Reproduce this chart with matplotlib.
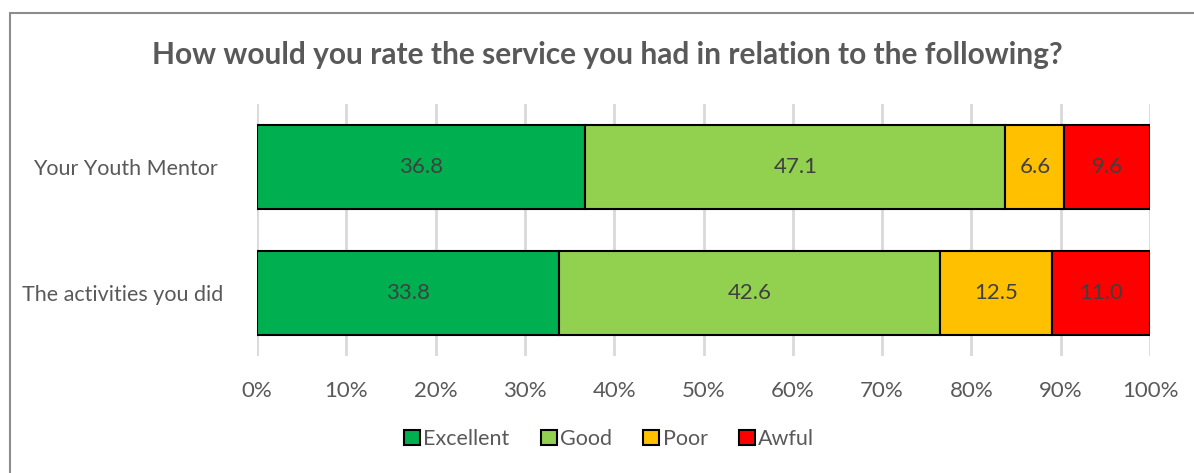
import matplotlib.pyplot as plt, numpy as np
from matplotlib.patches import Patch, Rectangle

categories = ["Your Youth Mentor ", "The activities you did"]
series = ["Excellent", "Good", "Poor", "Awful"]
excellent = [36.8, 33.8]
good = [47.1, 42.6]
poor = [6.6, 12.5]
awful = [9.6, 11.0]
colors = ["#00B050", "#92D050", "#FFC000", "#FF0000"]
xticks = [0, 10, 20, 30, 40, 50, 60, 70, 80, 90, 100]

plt.rcParams["font.family"] = ["Lato", "DejaVu Sans"]

fig = plt.figure(figsize=(11.94, 4.73), dpi=100)
ax = fig.add_axes([257/1194, 117/473, 893/1194, 252/473])

data = np.array([excellent, good, poor, awful])
totals = data.sum(axis=0)
shares = data / totals * 100
y = np.arange(len(categories))
left = np.zeros(len(categories))
for vals, sh, name, c in zip(data, shares, series, colors):
    ax.barh(y, sh, left=left, height=0.667, color=c, edgecolor="black", linewidth=1.5, label=name, zorder=3)
    for yi, l, s, v in zip(y, left, sh, vals):
        ax.text(l + s/2, yi, f"{v:.1f}", ha="center", va="center", fontsize=16, color="#404040", zorder=4)
    left += sh

ax.set_xlim(0, 100); ax.set_ylim(1.5, -0.5)
ax.set_yticks(y); ax.set_yticklabels(categories, fontsize=15.5, color="#595959")
ax.set_xticks(xticks); ax.set_xticklabels([f"{t}%" for t in xticks], fontsize=16, color="#595959")
ax.tick_params(axis="y", length=0, pad=24)
ax.tick_params(axis="x", length=0, pad=18)
for s in ax.spines.values(): s.set_visible(False)
ax.grid(axis="x", color="#D9D9D9", linewidth=2, zorder=0)

fig.text(607/1194, 1-55/473, "How would you rate the service you had in relation to the following?",
         ha="center", va="center", fontsize=21.5, fontweight="bold", color="#595959")
handles = [Patch(facecolor=c, edgecolor="black", linewidth=1.5, label=n) for c, n in zip(colors, series)]
fig.legend(handles=handles, loc="center", bbox_to_anchor=(609/1194, 1-439/473), ncol=4, frameon=False,
           fontsize=15.5, labelcolor="#595959", handlelength=0.75, handleheight=0.75, handletextpad=0.15, columnspacing=1.45)
fig.patches.append(Rectangle((10/1194, -0.1), 1.2, 1-13/473+0.1, transform=fig.transFigure,
                             fill=False, edgecolor="#8C8C8C", linewidth=1.5))
plt.savefig("out.png", dpi=100); plt.close()
